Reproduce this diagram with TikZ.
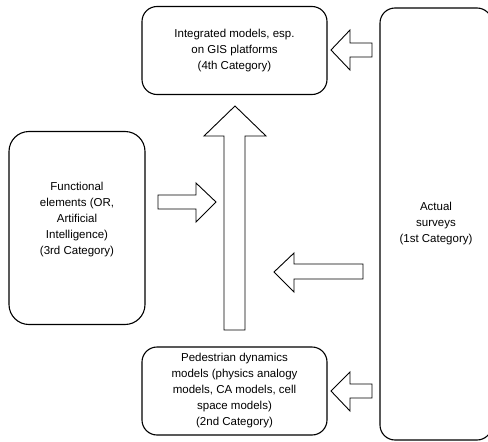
\documentclass[tikz,border=0pt]{standalone}
\usepackage{fontspec}
\setmainfont{Liberation Sans}
\begin{document}
\begin{tikzpicture}[x=1pt,y=-1pt,
  box/.style={draw,line width=1.1pt,rounded corners=15pt,align=center,inner sep=0pt,
    font=\fontsize{11.5}{16}\selectfont},
  lbl/.style={align=center,inner sep=0pt,font=\fontsize{11.5}{16}\selectfont},
  blockarrow/.style={draw,line width=0.9pt,fill=white,line join=miter}]
\useasboundingbox (0,0) rectangle (488,442);
\node[box,minimum width=185pt,minimum height=88pt] (cat4) at (234.5,50.5)
  {Integrated models, esp.\\on GIS platforms\\(4th Category)};
\node[box,rounded corners=20pt,minimum width=136pt,minimum height=193pt] (cat3) at (77,228) {};
\node[lbl] (cat3text) at ([yshift=8pt]cat3.center)
  {Functional\\elements (OR,\\Artificial\\Intelligence)\\(3rd Category)};
\node[box,minimum width=185pt,minimum height=88pt] (cat2) at (234.5,391)
  {Pedestrian dynamics\\models (physics analogy\\models, CA models, cell\\space models)\\(2nd Category)};
\node[box,minimum width=112pt,minimum height=432pt] (cat1) at (436,224)
  {Actual\\surveys\\(1st Category)};
% block arrows
\draw[blockarrow] (224,330)--(224,136)--(204,136)--(235,106)--(266,136)--(245,136)--(245,330)--cycle;
\draw[blockarrow] (158,195)--(196,195)--(196,183)--(216,202)--(196,222)--(196,209)--(158,209)--cycle;
\draw[blockarrow] (363,264)--(294,264)--(294,253)--(274,272)--(294,292)--(294,279)--(363,279)--cycle;
\draw[blockarrow] (372,43)--(350,43)--(350,30)--(331,50)--(350,70)--(350,57)--(372,57)--cycle;
\draw[blockarrow] (372,384)--(350,384)--(350,372)--(331,391)--(350,411)--(350,398)--(372,398)--cycle;
\end{tikzpicture}
\end{document}
